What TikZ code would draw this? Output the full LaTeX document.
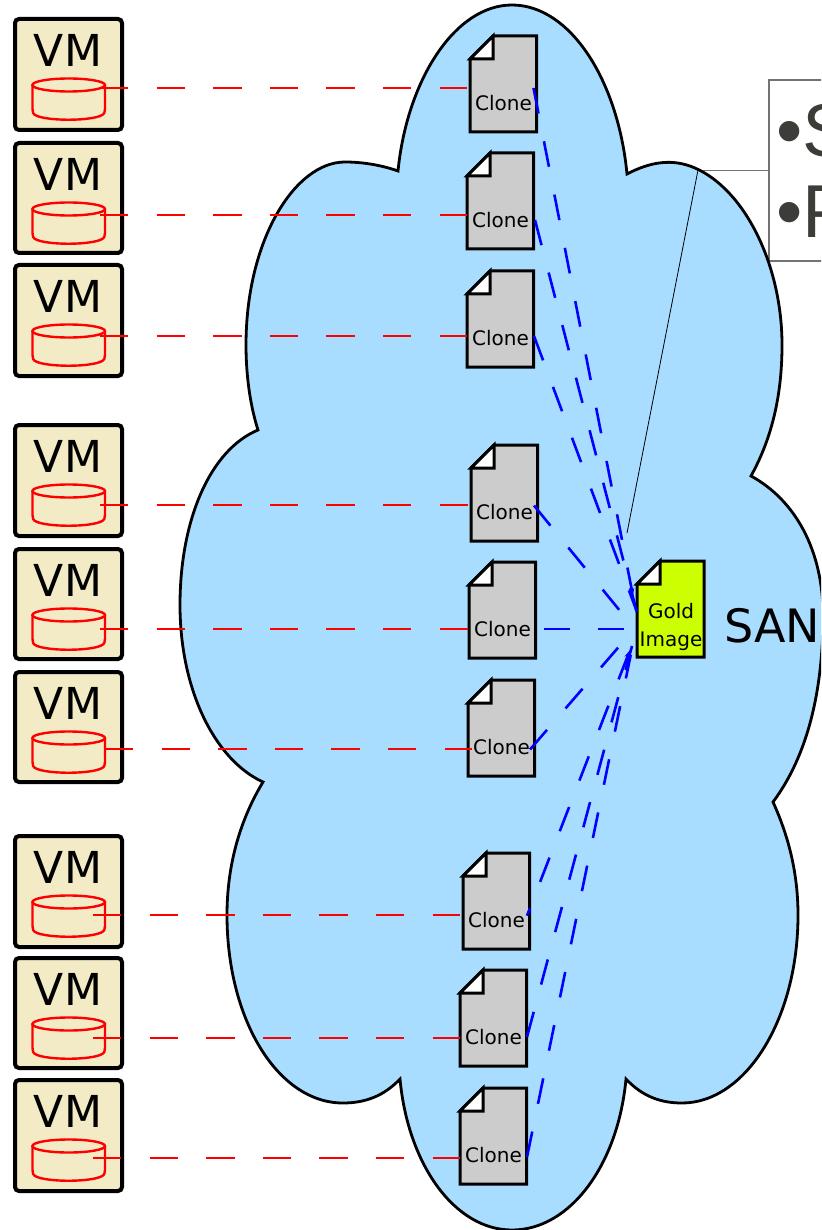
\documentclass[tikz,border=0pt]{standalone}
\usepackage{fontspec}
\setmainfont{DejaVu Sans}
\newfontfamily\calloutfont{Liberation Sans}
\usetikzlibrary{arrows.meta}
\definecolor{cloudblue}{HTML}{A9DDFF}
\definecolor{vmfill}{HTML}{F3EBC5}
\definecolor{clonegray}{HTML}{CCCCCC}
\definecolor{goldfill}{HTML}{CCFF00}
\definecolor{darktext}{HTML}{3C3C38}
\tikzset{
  vmbox/.style={draw=black,line width=4pt,rounded corners=4pt,fill=vmfill,minimum width=107pt,anchor=north west,inner sep=0pt,outer sep=0pt},
  vmlabel/.style={font=\fontsize{44}{44}\selectfont,inner sep=0pt,text=black},
  cloudshape/.style={draw=black,line width=2.8pt,fill=cloudblue},
  docshape/.style={draw=black,line width=3pt,line join=miter},
  doctext/.style={font=\fontsize{20}{28}\selectfont,inner sep=0pt,align=center,text=black},
  reddash/.style={draw=red,line width=2.7pt,dash pattern=on 28.3pt off 28.3pt},
  bluedash/.style={draw=blue,line width=2.6pt,dash pattern=on 26pt off 28.3pt},
  bluetip/.style={-{Stealth[length=8pt,width=5.5pt]}},
  cylline/.style={draw=red,line width=2.4pt},
  calloutline/.style={draw=black!55,line width=1.3pt},
  sanlabel/.style={font=\fontsize{46}{46}\selectfont,inner sep=0pt,anchor=west},
  bullettext/.style={font=\calloutfont\fontsize{75}{75}\selectfont,text=darktext,inner sep=0pt,anchor=base west},
}
\begin{document}
\begin{tikzpicture}[x=1pt,y=-1pt]
\useasboundingbox (0,0) rectangle (821,1230);
\begin{scope}
\clip (0,0) rectangle (821,1230);
\fill[white] (0,0) rectangle (821,1230);
% callout
\draw[calloutline,fill=white] (830,80) -- (769,80) -- (769,261) -- (830,261);
\draw[calloutline] (769,170.5) -- (697,170.5);
\node[bullettext] (bulletS) at (776,157) {•S};
\node[bullettext] (bulletP) at (776,238) {•P};
% cloud
\draw[cloudshape] (398,171)
  .. controls (407,80) and (455,5) .. (512,5)
  .. controls (570,5) and (618,80) .. (627,174)
  .. controls (650,162) and (672,158) .. (695,168)
  .. controls (745,190) and (782,265) .. (782,345)
  .. controls (782,395) and (772,438) .. (751,476)
  .. controls (795,500) and (823,550) .. (823,615)
  .. controls (823,690) and (808,755) .. (773,802)
  .. controls (788,835) and (798,872) .. (798,915)
  .. controls (798,1020) and (745,1103) .. (682,1103)
  .. controls (660,1103) and (642,1096) .. (626,1079)
  .. controls (618,1165) and (570,1230) .. (512,1230)
  .. controls (455,1230) and (408,1165) .. (400,1079)
  .. controls (384,1096) and (365,1103) .. (343,1103)
  .. controls (278,1103) and (227,1020) .. (227,915)
  .. controls (227,865) and (240,820) .. (263,782)
  .. controls (215,760) and (180,690) .. (180,605)
  .. controls (180,520) and (210,450) .. (258,430)
  .. controls (250,405) and (246,375) .. (246,345)
  .. controls (246,240) and (295,162) .. (345,162)
  .. controls (365,162) and (384,166) .. (398,171) -- cycle;
% thin line inside cloud
\coordinate (thinA) at (698,170);
\coordinate (thinB) at (627,533);
\draw[black,line width=0.8pt] (thinA) -- (thinB);
% VMs
\foreach \n/\t/\h in {1/19/111,2/143/110,3/265/111,4/425/111,5/549/110,6/672/110,7/836/111,8/958/110,9/1080/111}{
  \node[vmbox,minimum height=\h pt] (vm\n) at (15,\t) {};
  \node[vmlabel] (vmt\n) at (68,\t+31.5) {VM};
  \draw[cylline,fill=vmfill,rounded corners=2pt] (32.5,\t+66) -- (32.5,\t+92) .. controls (36,\t+103) and (101,\t+103) .. (105,\t+92) -- (105,\t+66);
  \draw[cylline,fill=vmfill] (68.7,\t+66) ellipse [x radius=36.3,y radius=6.5];
}
% clones
\foreach \n/\x/\y in {1/470/36,2/467/153,3/467/271,4/471/445,5/469/562,6/468/680,7/463/853,8/460/970,9/460/1088}{
  \draw[docshape,fill=clonegray] (\x,\y+23) -- (\x+23,\y) -- (\x+66.5,\y) -- (\x+66.5,\y+96) -- (\x,\y+96) -- cycle;
  \draw[docshape,fill=white] (\x,\y+23) -- (\x+23,\y) -- (\x+23,\y+23) -- cycle;
  \node[doctext] (clone\n) at (\x+33.5,\y+67.5) {Clone};
}
% gold image
\draw[docshape,fill=goldfill] (637,584) -- (660,561) -- (704,561) -- (704,657) -- (637,657) -- cycle;
\draw[docshape,fill=white] (637,584) -- (660,561) -- (660,584) -- cycle;
\node[doctext] (gold) at (671,627) {Gold\\Image};
\node[sanlabel] (san) at (724,625.5) {SAN};
% red connectors
\foreach \n/\a/\b/\y in {1/100/467/88,2/100/467/215,3/100/467/336,4/100/468/505,5/100/468/629,6/105/472/749,7/93/460/915,8/93/460/1038,9/93/460/1158}{
  \coordinate (ra\n) at (\a,\y);
  \coordinate (rb\n) at (\b,\y);
  \draw[reddash] (ra\n) -- (rb\n);
}
% blue connectors
\coordinate (ba1) at (533.5,88);   \coordinate (g1) at (633,596);
\coordinate (ba2) at (535,220);    \coordinate (g2) at (636.5,611);
\coordinate (ba3) at (534,336);    \coordinate (g3) at (637,612);
\coordinate (ba4) at (534,505.5);  \coordinate (g4) at (620.5,611.5);
\coordinate (ba5) at (544,629);    \coordinate (g5) at (628,629);
\coordinate (ba6) at (530,749.5);  \coordinate (g6) at (619.5,646);
\coordinate (ba7) at (527,915.7);  \coordinate (g7) at (630,650);
\coordinate (ba8) at (527,1037);   \coordinate (g8) at (632,646);
\coordinate (ba9) at (527,1157);   \coordinate (g9) at (630.7,655);
\draw[bluedash,bluetip] (ba1) -- (g1);
\draw[bluedash] (ba2) -- (g2);
\draw[bluedash] (ba3) -- (g3);
\draw[bluedash] (ba4) -- (g4);
\draw[bluedash] (ba5) -- (g5);
\draw[bluedash] (ba6) -- (g6);
\draw[bluedash,bluetip,dash phase=18pt] (ba7) -- (g7);
\draw[bluedash] (ba8) -- (g8);
\draw[bluedash] (ba9) -- (g9);
\end{scope}
\end{tikzpicture}
\end{document}
